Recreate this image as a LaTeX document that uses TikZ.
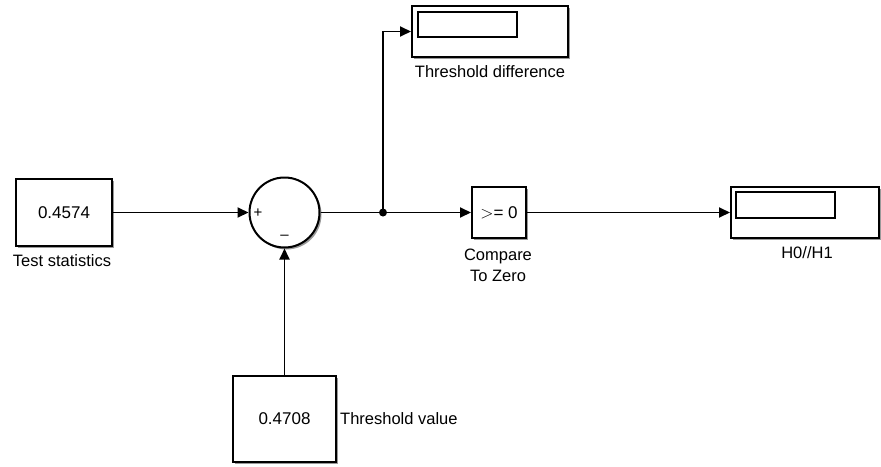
\documentclass[tikz,border=0pt]{standalone}
\usepackage{fontspec}
\setmainfont{Liberation Sans}
\usetikzlibrary{arrows.meta,shadows}
\begin{document}
\begin{tikzpicture}[x=1pt,y=-1pt,
  blk/.style={draw,line width=2pt,fill=white,inner sep=0pt,
    drop shadow={shadow xshift=2pt,shadow yshift=-2pt,fill=black!40,opacity=1}},
  disp/.style={draw,line width=1.7pt,inner sep=0pt},
  lbl/.style={font=\fontsize{16.5}{21}\selectfont,inner sep=0pt},
  val/.style={font=\fontsize{17}{20}\selectfont},
  wire/.style={line width=1.9pt},
  arr/.style={wire,-{Triangle[length=11pt,width=10pt]}}]
\useasboundingbox (0,0) rectangle (881,466);
% blocks
\node[blk,minimum width=96pt,minimum height=67pt,val] (ts) at (64,212.5) {0.4574};
\node[blk,circle,minimum size=70pt] (sum) at (284.5,212.5) {};
\node[blk,minimum width=103pt,minimum height=86pt,val] (tv) at (284.5,419) {0.4708};
\node[blk,minimum width=156pt,minimum height=51pt] (td) at (490,31.5) {};
\node[disp,minimum width=99pt,minimum height=25pt] (tdin) at (467.5,24.5) {};
\node[blk,minimum width=54pt,minimum height=51pt,val] (cz) at (499,212.5) {$>$= 0};
\node[blk,minimum width=148pt,minimum height=51pt] (hh) at (805,212.5) {};
\node[disp,minimum width=99pt,minimum height=26pt] (hhin) at (785.5,205) {};
% signs
\node[font=\fontsize{15}{15}\selectfont,inner sep=0pt] (plus) at (258,213) {+};
\node[font=\fontsize{15}{15}\selectfont,inner sep=0pt] (minus) at (284.5,237) {--};
% labels
\node[lbl] (tsl) at (62,261) {Test statistics};
\node[lbl,anchor=west] (tvl) at (340,419) {Threshold value};
\node[lbl] (tdl) at (490,72) {Threshold difference};
\node[lbl,align=center] (czl) at (498,265) {Compare\\To Zero};
\node[lbl] (hhl) at (807,253) {H0//H1};
% wires
\coordinate (br) at (383,212.5);
\draw[arr] (ts.east) -- (sum.west);
\draw[arr] (tv.north) -- (sum.south);
\draw[wire] (sum.east) -- (br);
\draw[arr] (br) -- (cz.west);
\draw[arr] (br) |- (td.west);
\draw[arr] (cz.east) -- (hh.west);
\fill (br) circle (4pt);
\end{tikzpicture}
\end{document}
